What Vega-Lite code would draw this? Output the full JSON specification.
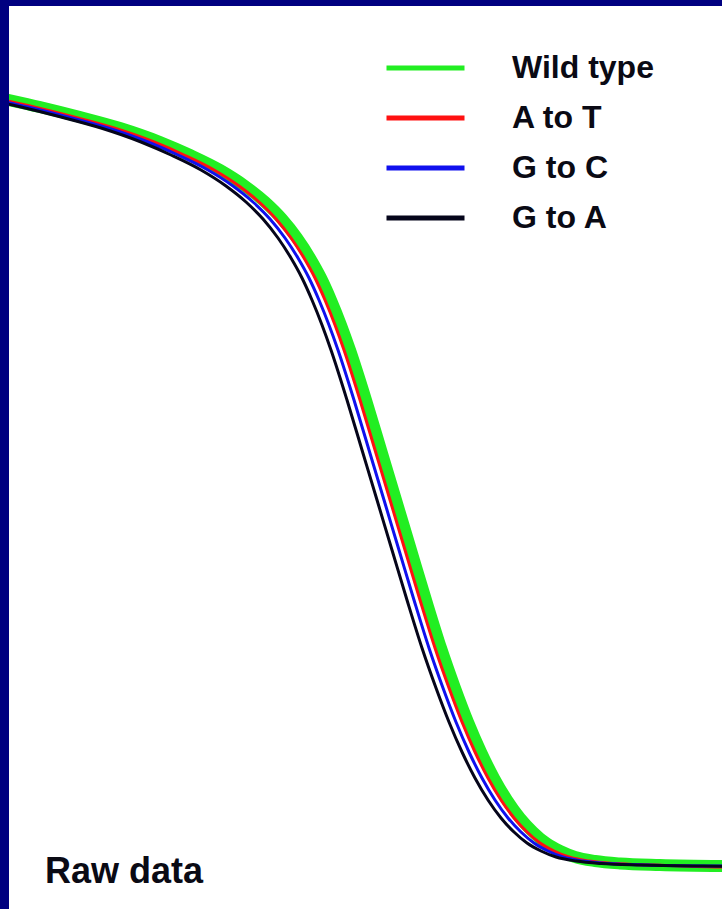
{
  "$schema": "https://vega.github.io/schema/vega-lite/v6.json",
  "width": 722,
  "height": 909,
  "autosize": {"type": "fit", "contains": "padding"},
  "padding": {"left": 9, "top": 6, "right": 0, "bottom": 0},
  "background": "#000080",
  "config": {"view": {"fill": "#ffffff", "stroke": null}},
  "title": {"text": "Raw data", "orient": "bottom", "anchor": "start", "frame": "group", "font": "Liberation Sans", "fontSize": 36, "fontWeight": "bold", "color": "#0a0a14", "baseline": "alphabetic", "offset": 0, "dx": 36, "dy": -26},
  "data": {"values": [
    {"series": "Wild type", "temp": 75.000, "fluor": 89.590},
    {"series": "Wild type", "temp": 75.870, "fluor": 88.815},
    {"series": "Wild type", "temp": 76.992, "fluor": 87.708},
    {"series": "Wild type", "temp": 78.114, "fluor": 86.489},
    {"series": "Wild type", "temp": 79.236, "fluor": 84.939},
    {"series": "Wild type", "temp": 80.077, "fluor": 83.499},
    {"series": "Wild type", "temp": 80.919, "fluor": 81.838},
    {"series": "Wild type", "temp": 81.620, "fluor": 80.066},
    {"series": "Wild type", "temp": 82.181, "fluor": 78.295},
    {"series": "Wild type", "temp": 82.658, "fluor": 76.412},
    {"series": "Wild type", "temp": 83.079, "fluor": 74.308},
    {"series": "Wild type", "temp": 83.443, "fluor": 72.093},
    {"series": "Wild type", "temp": 83.752, "fluor": 69.878},
    {"series": "Wild type", "temp": 84.032, "fluor": 67.442},
    {"series": "Wild type", "temp": 84.313, "fluor": 64.673},
    {"series": "Wild type", "temp": 84.565, "fluor": 61.905},
    {"series": "Wild type", "temp": 85.014, "fluor": 56.368},
    {"series": "Wild type", "temp": 85.435, "fluor": 50.831},
    {"series": "Wild type", "temp": 85.856, "fluor": 45.293},
    {"series": "Wild type", "temp": 86.276, "fluor": 39.756},
    {"series": "Wild type", "temp": 86.697, "fluor": 34.219},
    {"series": "Wild type", "temp": 87.118, "fluor": 28.904},
    {"series": "Wild type", "temp": 87.511, "fluor": 24.474},
    {"series": "Wild type", "temp": 87.875, "fluor": 20.709},
    {"series": "Wild type", "temp": 88.240, "fluor": 17.386},
    {"series": "Wild type", "temp": 88.604, "fluor": 14.507},
    {"series": "Wild type", "temp": 88.969, "fluor": 12.071},
    {"series": "Wild type", "temp": 89.334, "fluor": 10.078},
    {"series": "Wild type", "temp": 89.698, "fluor": 8.527},
    {"series": "Wild type", "temp": 90.063, "fluor": 7.309},
    {"series": "Wild type", "temp": 90.456, "fluor": 6.423},
    {"series": "Wild type", "temp": 90.877, "fluor": 5.759},
    {"series": "Wild type", "temp": 91.438, "fluor": 5.316},
    {"series": "Wild type", "temp": 92.139, "fluor": 5.039},
    {"series": "Wild type", "temp": 93.261, "fluor": 4.873},
    {"series": "Wild type", "temp": 95.000, "fluor": 4.762},
    {"series": "A to T", "temp": 74.832, "fluor": 89.590},
    {"series": "A to T", "temp": 75.702, "fluor": 88.815},
    {"series": "A to T", "temp": 76.824, "fluor": 87.708},
    {"series": "A to T", "temp": 77.946, "fluor": 86.489},
    {"series": "A to T", "temp": 79.068, "fluor": 84.939},
    {"series": "A to T", "temp": 79.909, "fluor": 83.499},
    {"series": "A to T", "temp": 80.751, "fluor": 81.838},
    {"series": "A to T", "temp": 81.452, "fluor": 80.066},
    {"series": "A to T", "temp": 82.013, "fluor": 78.295},
    {"series": "A to T", "temp": 82.490, "fluor": 76.412},
    {"series": "A to T", "temp": 82.911, "fluor": 74.308},
    {"series": "A to T", "temp": 83.275, "fluor": 72.093},
    {"series": "A to T", "temp": 83.584, "fluor": 69.878},
    {"series": "A to T", "temp": 83.864, "fluor": 67.442},
    {"series": "A to T", "temp": 84.145, "fluor": 64.673},
    {"series": "A to T", "temp": 84.397, "fluor": 61.905},
    {"series": "A to T", "temp": 84.846, "fluor": 56.368},
    {"series": "A to T", "temp": 85.267, "fluor": 50.831},
    {"series": "A to T", "temp": 85.688, "fluor": 45.293},
    {"series": "A to T", "temp": 86.108, "fluor": 39.756},
    {"series": "A to T", "temp": 86.529, "fluor": 34.219},
    {"series": "A to T", "temp": 86.950, "fluor": 28.904},
    {"series": "A to T", "temp": 87.343, "fluor": 24.474},
    {"series": "A to T", "temp": 87.707, "fluor": 20.709},
    {"series": "A to T", "temp": 88.072, "fluor": 17.386},
    {"series": "A to T", "temp": 88.436, "fluor": 14.507},
    {"series": "A to T", "temp": 88.801, "fluor": 12.071},
    {"series": "A to T", "temp": 89.166, "fluor": 10.078},
    {"series": "A to T", "temp": 89.530, "fluor": 8.527},
    {"series": "A to T", "temp": 89.895, "fluor": 7.309},
    {"series": "A to T", "temp": 90.288, "fluor": 6.423},
    {"series": "A to T", "temp": 90.709, "fluor": 5.759},
    {"series": "A to T", "temp": 91.270, "fluor": 5.316},
    {"series": "A to T", "temp": 91.971, "fluor": 5.039},
    {"series": "A to T", "temp": 93.093, "fluor": 4.873},
    {"series": "A to T", "temp": 94.832, "fluor": 4.650},
    {"series": "A to T", "temp": 95.000, "fluor": 4.640},
    {"series": "G to C", "temp": 74.663, "fluor": 89.590},
    {"series": "G to C", "temp": 75.533, "fluor": 88.815},
    {"series": "G to C", "temp": 76.655, "fluor": 87.708},
    {"series": "G to C", "temp": 77.777, "fluor": 86.489},
    {"series": "G to C", "temp": 78.899, "fluor": 84.939},
    {"series": "G to C", "temp": 79.740, "fluor": 83.499},
    {"series": "G to C", "temp": 80.582, "fluor": 81.838},
    {"series": "G to C", "temp": 81.283, "fluor": 80.066},
    {"series": "G to C", "temp": 81.844, "fluor": 78.295},
    {"series": "G to C", "temp": 82.321, "fluor": 76.412},
    {"series": "G to C", "temp": 82.742, "fluor": 74.308},
    {"series": "G to C", "temp": 83.106, "fluor": 72.093},
    {"series": "G to C", "temp": 83.415, "fluor": 69.878},
    {"series": "G to C", "temp": 83.695, "fluor": 67.442},
    {"series": "G to C", "temp": 83.976, "fluor": 64.673},
    {"series": "G to C", "temp": 84.228, "fluor": 61.905},
    {"series": "G to C", "temp": 84.677, "fluor": 56.368},
    {"series": "G to C", "temp": 85.098, "fluor": 50.831},
    {"series": "G to C", "temp": 85.519, "fluor": 45.293},
    {"series": "G to C", "temp": 85.939, "fluor": 39.756},
    {"series": "G to C", "temp": 86.360, "fluor": 34.219},
    {"series": "G to C", "temp": 86.781, "fluor": 28.904},
    {"series": "G to C", "temp": 87.174, "fluor": 24.474},
    {"series": "G to C", "temp": 87.538, "fluor": 20.709},
    {"series": "G to C", "temp": 87.903, "fluor": 17.386},
    {"series": "G to C", "temp": 88.267, "fluor": 14.507},
    {"series": "G to C", "temp": 88.632, "fluor": 12.071},
    {"series": "G to C", "temp": 88.997, "fluor": 10.078},
    {"series": "G to C", "temp": 89.361, "fluor": 8.527},
    {"series": "G to C", "temp": 89.726, "fluor": 7.309},
    {"series": "G to C", "temp": 90.119, "fluor": 6.423},
    {"series": "G to C", "temp": 90.540, "fluor": 5.759},
    {"series": "G to C", "temp": 91.101, "fluor": 5.316},
    {"series": "G to C", "temp": 91.802, "fluor": 5.039},
    {"series": "G to C", "temp": 92.924, "fluor": 4.873},
    {"series": "G to C", "temp": 94.663, "fluor": 4.762},
    {"series": "G to C", "temp": 95.000, "fluor": 4.750},
    {"series": "G to A", "temp": 74.467, "fluor": 89.590},
    {"series": "G to A", "temp": 75.337, "fluor": 88.815},
    {"series": "G to A", "temp": 76.459, "fluor": 87.708},
    {"series": "G to A", "temp": 77.581, "fluor": 86.489},
    {"series": "G to A", "temp": 78.703, "fluor": 84.939},
    {"series": "G to A", "temp": 79.544, "fluor": 83.499},
    {"series": "G to A", "temp": 80.386, "fluor": 81.838},
    {"series": "G to A", "temp": 81.087, "fluor": 80.066},
    {"series": "G to A", "temp": 81.648, "fluor": 78.295},
    {"series": "G to A", "temp": 82.125, "fluor": 76.412},
    {"series": "G to A", "temp": 82.546, "fluor": 74.308},
    {"series": "G to A", "temp": 82.910, "fluor": 72.093},
    {"series": "G to A", "temp": 83.219, "fluor": 69.878},
    {"series": "G to A", "temp": 83.499, "fluor": 67.442},
    {"series": "G to A", "temp": 83.780, "fluor": 64.673},
    {"series": "G to A", "temp": 84.032, "fluor": 61.905},
    {"series": "G to A", "temp": 84.481, "fluor": 56.368},
    {"series": "G to A", "temp": 84.902, "fluor": 50.831},
    {"series": "G to A", "temp": 85.323, "fluor": 45.293},
    {"series": "G to A", "temp": 85.743, "fluor": 39.756},
    {"series": "G to A", "temp": 86.164, "fluor": 34.219},
    {"series": "G to A", "temp": 86.585, "fluor": 28.904},
    {"series": "G to A", "temp": 86.978, "fluor": 24.474},
    {"series": "G to A", "temp": 87.342, "fluor": 20.709},
    {"series": "G to A", "temp": 87.707, "fluor": 17.386},
    {"series": "G to A", "temp": 88.071, "fluor": 14.507},
    {"series": "G to A", "temp": 88.436, "fluor": 12.071},
    {"series": "G to A", "temp": 88.801, "fluor": 10.078},
    {"series": "G to A", "temp": 89.165, "fluor": 8.527},
    {"series": "G to A", "temp": 89.530, "fluor": 7.309},
    {"series": "G to A", "temp": 89.923, "fluor": 6.423},
    {"series": "G to A", "temp": 90.344, "fluor": 5.759},
    {"series": "G to A", "temp": 90.905, "fluor": 5.316},
    {"series": "G to A", "temp": 91.606, "fluor": 5.039},
    {"series": "G to A", "temp": 92.728, "fluor": 4.873},
    {"series": "G to A", "temp": 94.467, "fluor": 4.762},
    {"series": "G to A", "temp": 95.000, "fluor": 4.740}
  ]},
  "encoding": {
    "x": {"field": "temp", "type": "quantitative", "scale": {"domain": [75, 95], "nice": false, "zero": false}, "axis": null},
    "y": {"field": "fluor", "type": "quantitative", "scale": {"domain": [0, 100], "nice": false}, "axis": null},
    "color": {
      "field": "series", "type": "nominal",
      "scale": {"domain": ["Wild type", "A to T", "G to C", "G to A"], "range": ["#22ee22", "#ff1111", "#1010ee", "#05051a"]},
      "legend": {"orient": "none", "legendX": 375, "legendY": 47, "title": null, "symbolType": "stroke", "symbolSize": 6084, "symbolStrokeWidth": 5, "labelFont": "Liberation Sans", "labelFontSize": 32, "labelFontWeight": "bold", "labelColor": "#0a0a14", "labelOffset": 45, "clipHeight": 30, "rowPadding": 18, "padding": 0, "labelLimit": 400}
    }
  },
  "layer": [
    {"transform": [{"filter": "datum.series === 'Wild type'"}], "mark": {"type": "line", "clip": true, "strokeWidth": 12, "strokeJoin": "round", "strokeCap": "round", "interpolate": "monotone"}},
    {"transform": [{"filter": "datum.series !== 'Wild type'"}], "mark": {"type": "line", "clip": true, "strokeWidth": 3, "strokeJoin": "round", "interpolate": "monotone"}}
  ]
}
